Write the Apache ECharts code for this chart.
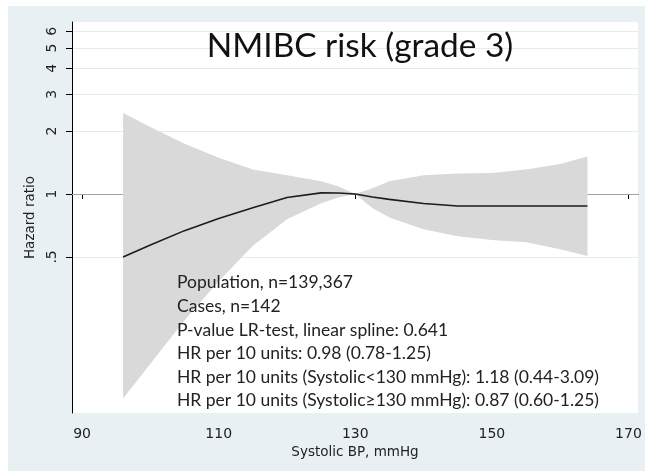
<!DOCTYPE html>
<html>
<head>
<meta charset="utf-8">
<script src="https://cdn.jsdelivr.net/npm/echarts@6/dist/echarts.min.js"></script>
<style>
  html, body { margin: 0; padding: 0; background: #ffffff; }
  #bg { position: absolute; left: 8px; top: 6px; width: 637px; height: 465px; background: #e8f0f3; }
  #chart { position: absolute; left: 0; top: 0; width: 645px; height: 472px; }
</style>
</head>
<body>
<div id="bg"></div>
<div id="chart"></div>
<script>
// ---- data ----
const xValues  = [96, 100, 105, 110, 115, 120, 125, 127.5, 130, 132.5, 135, 140, 145, 150, 155, 160, 164];
const hrValues = [0.50, 0.570, 0.668, 0.763, 0.859, 0.962, 1.013, 1.012, 1.00, 0.967, 0.943, 0.901, 0.876, 0.876, 0.876, 0.876, 0.876];
const ciUpper  = [2.44, 2.09, 1.74, 1.49, 1.31, 1.23, 1.15, 1.09, 1.00, 1.065, 1.15, 1.23, 1.255, 1.26, 1.31, 1.39, 1.51];
const ciLower  = [0.105, 0.154, 0.249, 0.382, 0.566, 0.758, 0.904, 0.961, 1.00, 0.858, 0.773, 0.679, 0.628, 0.603, 0.587, 0.544, 0.505];

const xTickValues = [90, 110, 130, 150, 170];
const yTickValues = [0.5, 1, 2, 3, 4, 5, 6];
const yTickLabels = ['.5', '1', '2', '3', '4', '5', '6'];

const titleText = 'NMIBC risk (grade 3)';
const yAxisTitle = 'Hazard ratio';
const xAxisTitle = 'Systolic BP, mmHg';
const annotationLines = [
  'Population, n=139,367',
  'Cases, n=142',
  'P-value LR-test, linear spline: 0.641',
  'HR per 10 units: 0.98 (0.78-1.25)',
  'HR per 10 units (Systolic<130 mmHg): 1.18 (0.44-3.09)',
  'HR per 10 units (Systolic\u2265130 mmHg): 0.87 (0.60-1.25)'
];

// ---- build ----
const lg = v => Math.log10(v);
const bandData  = xValues.map((x, i) => [x, lg(ciLower[i]), lg(ciUpper[i])]);
const curveData = xValues.map((x, i) => [x, lg(hrValues[i])]);
const yTickLog = yTickValues.map(lg);

const tickFont = 'DejaVu Sans';
const textFont = 'Lato';

const chart = echarts.init(document.getElementById('chart'), null, { renderer: 'canvas' });

const graphics = [
  {
    type: 'text', x: 360, y: 46, z: 100,
    style: { text: titleText, fontFamily: textFont, fontSize: 33.4, fill: '#111111', align: 'center', verticalAlign: 'middle' }
  }
];
annotationLines.forEach((t, i) => {
  graphics.push({
    type: 'text', x: 177, y: 282.8 + i * 23.6, z: 100,
    style: { text: t, fontFamily: textFont, fontSize: 17.5, fill: '#222222', verticalAlign: 'middle', align: 'left' }
  });
});

function renderBand(params, api) {
  if (params.dataIndex !== 0) return null;
  const upper = [], lower = [];
  for (let i = 0; i < bandData.length; i++) {
    upper.push(api.coord([bandData[i][0], bandData[i][2]]));
    lower.push(api.coord([bandData[i][0], bandData[i][1]]));
  }
  return {
    type: 'polygon',
    shape: { points: upper.concat(lower.reverse()) },
    style: { fill: '#d9d9d9', stroke: null }
  };
}

chart.setOption({
  backgroundColor: 'transparent',
  animation: false,
  grid: { left: 72, top: 22, right: 7, bottom: 59, show: true, backgroundColor: '#ffffff', borderWidth: 0 },
  xAxis: {
    type: 'value', min: 88.52, max: 171.4,
    name: xAxisTitle, nameLocation: 'middle', nameGap: 25,
    nameTextStyle: { fontFamily: tickFont, fontSize: 13.5, color: '#222222' },
    axisLine: { show: true, lineStyle: { color: '#000000', width: 1 } },
    axisTick: { show: true, length: 5, customValues: xTickValues, lineStyle: { color: '#000000' } },
    axisLabel: { customValues: xTickValues, margin: 14, fontFamily: tickFont, fontSize: 14, color: '#222222' },
    splitLine: { show: false }
  },
  yAxis: {
    type: 'value', min: -1.0478, max: 0.8230,
    name: yAxisTitle, nameLocation: 'middle', nameGap: 33, nameRotate: 90,
    nameTextStyle: { fontFamily: tickFont, fontSize: 13.5, color: '#222222' },
    axisLine: { show: true, lineStyle: { color: '#000000', width: 1 } },
    axisTick: { show: true, length: 6, customValues: yTickLog, lineStyle: { color: '#000000' } },
    axisLabel: {
      customValues: yTickLog, rotate: 90, margin: 13, fontFamily: tickFont, fontSize: 14, color: '#222222',
      formatter: v => {
        const i = yTickLog.findIndex(t => Math.abs(t - v) < 1e-6);
        return i >= 0 ? yTickLabels[i] : '';
      }
    },
    splitLine: { show: true, lineStyle: { color: '#e3ecef', width: 1.2 } }
  },
  series: [
    {
      type: 'custom', data: bandData, renderItem: renderBand,
      encode: { x: 0, y: [1, 2] }, z: 3, silent: true
    },
    {
      type: 'line', data: curveData, symbol: 'none', z: 4, silent: true,
      lineStyle: { color: '#1c1c1c', width: 1.6 },
      markLine: {
        silent: true, symbol: 'none', z: 1, label: { show: false },
        lineStyle: { color: '#a3a3a3', width: 1, type: 'solid' },
        data: [{ yAxis: 0 }]
      }
    }
  ],
  graphic: graphics
});
</script>
</body>
</html>
